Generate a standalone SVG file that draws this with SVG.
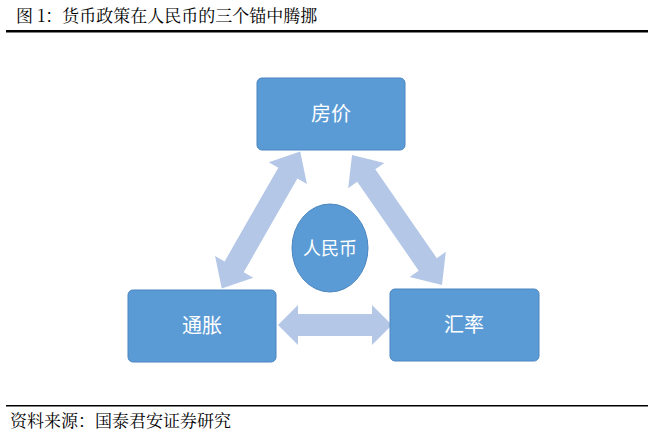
<svg xmlns="http://www.w3.org/2000/svg" width="654" height="445" viewBox="0 0 654 445">
<style>
.t{font-family:"Noto Sans CJK SC",sans-serif;fill:#fff;font-size:20px;text-anchor:middle}
.h{font-family:"Noto Serif CJK SC","Noto Sans CJK SC",serif;fill:#000;font-size:17px}
.box{fill:#5b9bd5;stroke:#4a86c0;stroke-width:1}
.arr{fill:#b4c7e7}
</style>
<rect width="654" height="445" fill="#fff"/>
<text class="h" x="16" y="22">图 1：货币政策在人民币的三个锚中腾挪</text>
<rect x="6" y="30" width="642" height="2.5" fill="#000"/>
<g id="connectors">
<polygon class="arr" transform="translate(261,220) rotate(-60.2)" points="-79,0 -54,-22 -54,-11 54,-11 54,-22 79,0 54,22 54,11 -54,11 -54,22"/>
<polygon class="arr" transform="translate(397,220) rotate(55.3)" points="-79,0 -54,-22 -54,-11 54,-11 54,-22 79,0 54,22 54,11 -54,11 -54,22"/>
<polygon class="arr" transform="translate(335,325)" points="-57,0 -37,-20 -37,-11 37,-11 37,-20 57,0 37,20 37,11 -37,11 -37,20"/>
</g>
<g id="n-fangjia"><rect class="box" x="257" y="78" width="148" height="72" rx="5"/><text class="t" x="331" y="121">房价</text></g>
<g id="n-tongzhang"><rect class="box" x="128" y="290" width="148" height="72" rx="5"/><text class="t" x="202" y="333">通胀</text></g>
<g id="n-huilv"><rect class="box" x="390" y="289" width="149" height="72" rx="5"/><text class="t" x="464" y="332">汇率</text></g>
<g id="n-rmb"><ellipse class="box" cx="330" cy="248" rx="38" ry="44"/><text class="t" x="330" y="255" style="font-size:18px">人民币</text></g>
<rect x="6" y="405" width="642" height="1.5" fill="#000"/>
<text class="h" x="10" y="427">资料来源：国泰君安证券研究</text>
</svg>
